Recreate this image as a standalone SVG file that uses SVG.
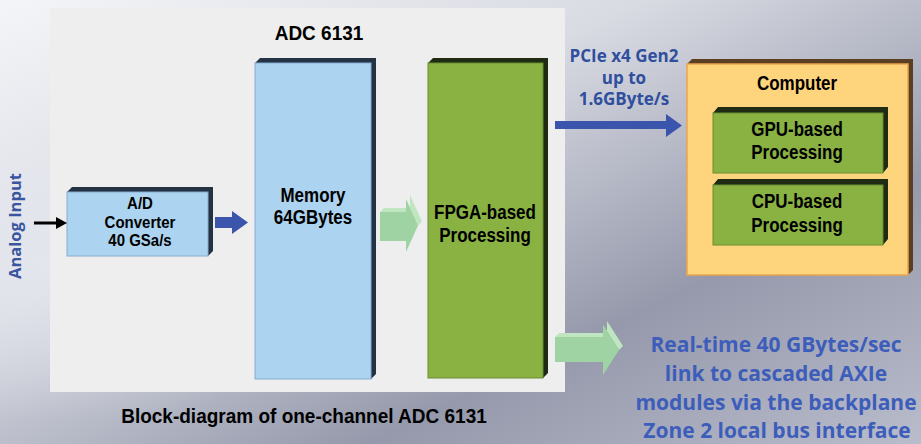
<svg xmlns="http://www.w3.org/2000/svg" width="921" height="444" viewBox="0 0 921 444">
<defs>
<linearGradient id="bg" x1="0" y1="0" x2="1" y2="1">
<stop offset="0" stop-color="#f4f5f8"/>
<stop offset="0.35" stop-color="#d9dbe3"/>
<stop offset="0.7" stop-color="#9599ab"/>
<stop offset="1" stop-color="#b9bccb"/>
</linearGradient>
<radialGradient id="hl" cx="0.05" cy="0.6" r="0.35">
<stop offset="0" stop-color="#e6e8f0" stop-opacity="0.8"/>
<stop offset="1" stop-color="#e6e8f0" stop-opacity="0"/>
</radialGradient>
<style>
.blk{font-family:"Liberation Sans",Arial,sans-serif;font-weight:bold;fill:#000;text-anchor:middle}
.blu{font-family:"Open Sans","Liberation Sans",sans-serif;font-weight:bold;text-anchor:middle}
.mem{fill:#acd3ef;stroke:#86acd2;stroke-width:1}
.memx{fill:#243344}
.grn{fill:#89b243;stroke:#6a8d2e;stroke-width:1}
.grnx{fill:#1f2b12}
.cmp{fill:#fed47c;stroke:#e9a64c;stroke-width:1.5}
.cmpx{fill:#5b3f22}
.barrow{fill:#3b55ac}
.garrow{fill:#9fd3a3}
.garrowx{fill:#bfe6c0}
</style>
</defs>
<rect width="921" height="444" fill="url(#bg)"/>
<rect width="921" height="444" fill="url(#hl)"/>
<rect x="50" y="8" width="515" height="384" fill="#eeeeee"/>

<text class="blk" transform="matrix(1,0,0,1.1,319,40)" font-size="19">ADC 6131</text>
<text class="blk" transform="matrix(1,0,0,1.1,304,423)" font-size="19">Block-diagram of one-channel ADC 6131</text>
<text class="blu" transform="translate(21,226) rotate(-90)" font-size="16.5" fill="#3a55a0">Analog Input</text>

<g id="ad">
<polygon class="memx" points="67,192 72,187 213,187 213,251 208,256 208,192"/>
<rect class="mem" x="67" y="192" width="141" height="64"/>
<text class="blk" transform="matrix(1,0,0,1.12,140,209)" font-size="15">A/D</text>
<text class="blk" transform="matrix(1,0,0,1.12,140,227.5)" font-size="15">Converter</text>
<text class="blk" transform="matrix(1,0,0,1.12,140,246)" font-size="15">40 GSa/s</text>
</g>

<g id="memory">
<polygon class="memx" points="255,63 260,58 376,58 376,374 371,379 371,63"/>
<rect class="mem" x="255" y="63" width="116" height="316"/>
<text class="blk" transform="matrix(1,0,0,1.15,313,202)" font-size="17">Memory</text>
<text class="blk" transform="matrix(1,0,0,1.15,313,224)" font-size="17">64GBytes</text>
</g>

<g id="fpga">
<polygon class="grnx" points="428,63 433,58 548,58 548,373 543,378 543,63"/>
<rect class="grn" x="428" y="63" width="115" height="315"/>
<text class="blk" transform="matrix(1,0,0,1.15,485,219)" font-size="17">FPGA-based</text>
<text class="blk" transform="matrix(1,0,0,1.15,485,242)" font-size="17">Processing</text>
</g>

<g id="computer">
<polygon class="cmpx" points="687,64 692,59 913,59 913,270 908,275 908,64"/>
<rect class="cmp" x="687" y="64" width="221" height="211"/>
<text class="blk" transform="matrix(1,0,0,1.15,797,90)" font-size="17">Computer</text>
</g>

<g id="gpu">
<polygon class="grnx" points="713,113 718,107 888,107 888,167 883,173 883,113"/>
<rect class="grn" x="713" y="113" width="170" height="60"/>
<text class="blk" transform="matrix(1,0,0,1.15,797,136)" font-size="17">GPU-based</text>
<text class="blk" transform="matrix(1,0,0,1.15,797,159)" font-size="17">Processing</text>
</g>

<g id="cpu">
<polygon class="grnx" points="713,185 718,179 888,179 888,239 883,245 883,185"/>
<rect class="grn" x="713" y="185" width="170" height="60"/>
<text class="blk" transform="matrix(1,0,0,1.15,797,208)" font-size="17">CPU-based</text>
<text class="blk" transform="matrix(1,0,0,1.15,797,232)" font-size="17">Processing</text>
</g>

<g id="labels">
<g class="blu" font-size="17" fill="#2f4f9e">
<text x="624" y="62">PCIe x4 Gen2</text>
<text x="624" y="84">up to</text>
<text x="624" y="105">1.6GByte/s</text>
</g>
<g class="blu" font-size="21" fill="#3d5dbb">
<text x="776" y="352">Real-time 40 GBytes/sec</text>
<text x="776" y="381">link to cascaded AXIe</text>
<text x="776" y="410">modules via the backplane</text>
<text x="777" y="438">Zone 2 local bus  interface</text>
</g>
</g>

<g id="connectors">
<line x1="34" y1="223" x2="58" y2="223" stroke="#000" stroke-width="3"/>
<polygon fill="#000" points="56,217 67,223 56,229"/>
<polygon class="barrow" points="215,217 232,217 232,211 248,222.5 232,234 232,228 215,228"/>
<polygon class="garrowx" points="384,208 410,208 410,195 422,221.5 418,225.5 406,199 406,212 380,212"/>
<polygon class="garrow" points="380,212 406,212 406,199 418,225.5 406,252 406,241 380,241"/>
<polygon class="barrow" points="555,121 666,121 666,114 682,125.5 666,137 666,129 555,129"/>
<polygon class="garrowx" points="559,333 607,333 607,321 623,346 619,350 603,325 603,337 555,337"/>
<polygon class="garrow" points="555,337 603,337 603,325 619,350 603,375 603,362 555,362"/>
</g>
</svg>
